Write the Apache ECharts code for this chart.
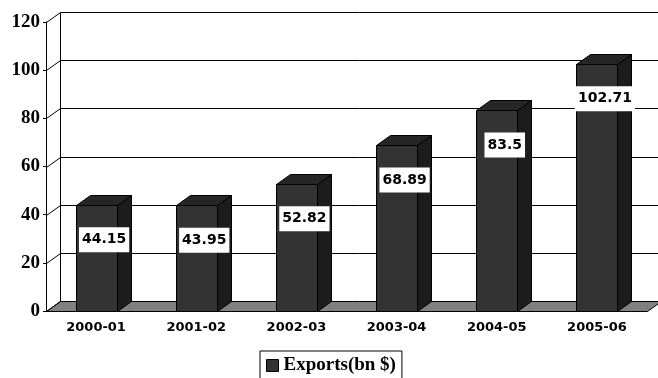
<!DOCTYPE html>
<html>
<head>
<meta charset="utf-8">
<script src="https://cdn.jsdelivr.net/npm/echarts@6/dist/echarts.min.js"></script>
<style>
  html, body { margin: 0; padding: 0; background: #fff; }
  #main { width: 658px; height: 378px; }
</style>
</head>
<body>
<div id="main"></div>
<script>
// data
const years = ['2000-01', '2001-02', '2002-03', '2003-04', '2004-05', '2005-06'];
const exportsBn = [44.15, 43.95, 52.82, 68.89, 83.5, 102.71];
const yTicks = [0, 20, 40, 60, 80, 100, 120];
const seriesName = 'Exports(bn $)';

// fake 3d depth of the chart (px)
const DX = 14, DY = -10;

function px(v) { return Math.round(v) + 0.5; }

// back wall, left wall and floor, one item per y tick
function renderWall(params, api) {
    const rect = params.coordSys;
    const v = api.value(1);
    const y = px(api.coord([0, v])[1]);
    const x0 = px(rect.x), x1 = px(rect.x + rect.width);
    const children = [];
    if (v === 0) {
        children.push({
            type: 'polygon',
            shape: {points: [[x0, y], [x1, y], [x1 + DX, y + DY], [x0 + DX, y + DY]]},
            style: {fill: '#808080', stroke: '#000', lineWidth: 1}
        });
        const yTop = px(api.coord([0, yTicks[yTicks.length - 1]])[1]);
        children.push({
            type: 'line',
            shape: {x1: x0 + DX, y1: y + DY, x2: x0 + DX, y2: yTop + DY},
            style: {stroke: '#000', lineWidth: 1}
        });
    } else {
        children.push({
            type: 'line',
            shape: {x1: x0 + DX, y1: y + DY, x2: x1 + DX, y2: y + DY},
            style: {stroke: '#000', lineWidth: 1}
        });
    }
    children.push({
        type: 'line',
        shape: {x1: x0, y1: y, x2: x0 + DX, y2: y + DY},
        style: {stroke: '#000', lineWidth: 1}
    });
    return {type: 'group', children: children};
}

function renderBar(params, api) {
    const val = api.value(1);
    const top = api.coord([api.value(0), val]);
    const base = api.coord([api.value(0), 0]);
    const hw = api.size([1, 0])[0] * 0.205;
    const xl = px(top[0] - hw), xr = px(top[0] + hw);
    const yt = px(top[1]), yb = px(base[1]);
    const edge = {stroke: '#000', lineWidth: 1};
    return {
        type: 'group',
        children: [
            {
                type: 'polygon',
                shape: {points: [[xr, yt], [xr + DX, yt + DY], [xr + DX, yb + DY], [xr, yb]]},
                style: Object.assign({fill: '#1c1c1c'}, edge)
            },
            {
                type: 'polygon',
                shape: {points: [[xl, yt], [xr, yt], [xr + DX, yt + DY], [xl + DX, yt + DY]]},
                style: Object.assign({fill: '#262626'}, edge)
            },
            {
                type: 'rect',
                shape: {x: xl, y: yt, width: xr - xl, height: yb - yt},
                style: Object.assign({fill: '#333333'}, edge)
            },
            {
                type: 'text',
                x: top[0] + 8,
                y: top[1] + 35,
                style: {
                    text: String(val),
                    fill: '#000',
                    font: 'bold 14px "DejaVu Sans"',
                    align: 'center',
                    verticalAlign: 'middle',
                    backgroundColor: '#fff',
                    padding: [6, 3, 5, 3]
                }
            }
        ]
    };
}

let option = {
    backgroundColor: '#fff',
    animation: false,
    grid: {left: 46, right: 11, top: 22, bottom: 67},
    legend: {
        left: 260,
        top: 351,
        padding: [5, 6, 20, 6],
        borderColor: '#000',
        borderWidth: 1,
        itemWidth: 12,
        itemHeight: 12,
        selectedMode: false,
        data: [{name: seriesName, icon: 'rect'}],
        itemStyle: {color: '#333', borderColor: '#000', borderWidth: 1},
        textStyle: {fontFamily: 'Liberation Serif', fontWeight: 'bold', fontSize: 19, color: '#000'}
    },
    xAxis: {
        type: 'category',
        data: years,
        axisLine: {lineStyle: {color: '#000', width: 1}},
        axisTick: {length: 6, lineStyle: {color: '#000'}},
        axisLabel: {
            interval: 0,
            margin: 10,
            color: '#000',
            fontFamily: 'DejaVu Sans',
            fontWeight: 'bold',
            fontSize: 13
        },
        splitLine: {show: false}
    },
    yAxis: {
        type: 'value',
        min: 0,
        max: 120,
        interval: 20,
        axisLine: {show: true, lineStyle: {color: '#000', width: 1}},
        axisTick: {show: true, length: 3, lineStyle: {color: '#000'}},
        axisLabel: {
            margin: 6,
            color: '#000',
            fontFamily: 'Liberation Serif',
            fontWeight: 'bold',
            fontSize: 19
        },
        splitLine: {show: false}
    },
    series: [
        {
            type: 'custom',
            name: 'wall',
            z: 1,
            silent: true,
            renderItem: renderWall,
            encode: {x: 0, y: 1},
            data: yTicks.map(function (v) { return [0, v]; })
        },
        {
            type: 'custom',
            name: seriesName,
            z: 3,
            itemStyle: {color: '#333'},
            renderItem: renderBar,
            encode: {x: 0, y: 1},
            data: exportsBn.map(function (v, i) { return [i, v]; })
        }
    ]
};

let myChart = echarts.init(document.getElementById('main'));
myChart.setOption(option);
</script>
</body>
</html>
